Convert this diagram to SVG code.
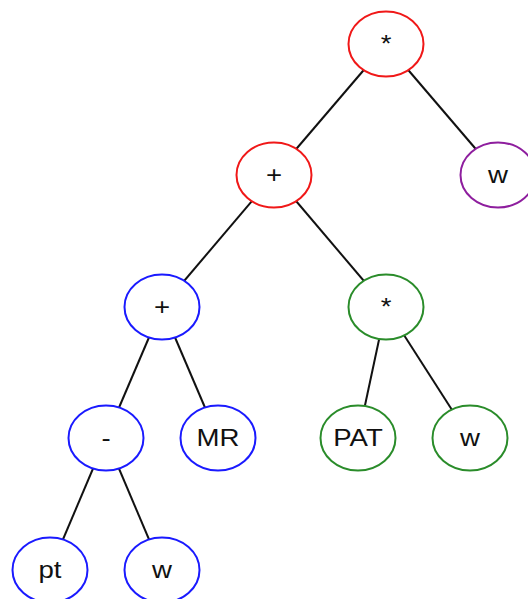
<svg xmlns="http://www.w3.org/2000/svg" width="528" height="599" viewBox="0 0 528 599">
<style>
.e{fill:#fff;stroke-width:2}
.r{stroke:#f01818}.b{stroke:#1a1aff}.g{stroke:#2a8c2a}.p{stroke:#8e1e9e}
text{font-family:"Liberation Sans",Arial,sans-serif;font-size:24px;fill:#111;text-anchor:middle;dominant-baseline:central}
#edges line{stroke:#111;stroke-width:2}
</style>
<rect width="528" height="599" fill="#fff"/>
<g id="edges">
<line x1="386" y1="44" x2="274" y2="175"/>
<line x1="386" y1="44" x2="498" y2="175"/>
<line x1="274" y1="175" x2="162" y2="307"/>
<line x1="274" y1="175" x2="386" y2="307"/>
<line x1="162" y1="307" x2="106" y2="438"/>
<line x1="162" y1="307" x2="218" y2="438"/>
<line x1="386" y1="307" x2="358" y2="438"/>
<line x1="386" y1="307" x2="470" y2="438"/>
<line x1="106" y1="438" x2="50" y2="570"/>
<line x1="106" y1="438" x2="162" y2="570"/>
</g>
<g id="n1"><ellipse class="e r" cx="386" cy="44" rx="37.5" ry="32.5"/><text transform="translate(386,44) scale(1.15,1)">*</text></g>
<g id="n2"><ellipse class="e r" cx="274" cy="175" rx="37.5" ry="32.5"/><text transform="translate(274,175) scale(1.15,1)">+</text></g>
<g id="n3"><ellipse class="e p" cx="498" cy="175" rx="37.5" ry="32.5"/><text transform="translate(498,175) scale(1.15,1)">w</text></g>
<g id="n4"><ellipse class="e b" cx="162" cy="307" rx="37.5" ry="32.5"/><text transform="translate(162,307) scale(1.15,1)">+</text></g>
<g id="n5"><ellipse class="e g" cx="386" cy="307" rx="37.5" ry="32.5"/><text transform="translate(386,307) scale(1.15,1)">*</text></g>
<g id="n6"><ellipse class="e b" cx="106" cy="438" rx="37.5" ry="32.5"/><text transform="translate(106,438) scale(1.15,1)">-</text></g>
<g id="n7"><ellipse class="e b" cx="218" cy="438" rx="37.5" ry="32.5"/><text transform="translate(218,438) scale(1.15,1)">MR</text></g>
<g id="n8"><ellipse class="e g" cx="358" cy="438" rx="37.5" ry="32.5"/><text transform="translate(358,438) scale(1.15,1)">PAT</text></g>
<g id="n9"><ellipse class="e g" cx="470" cy="438" rx="37.5" ry="32.5"/><text transform="translate(470,438) scale(1.15,1)">w</text></g>
<g id="n10"><ellipse class="e b" cx="50" cy="570" rx="37.5" ry="32.5"/><text transform="translate(50,570) scale(1.15,1)">pt</text></g>
<g id="n11"><ellipse class="e b" cx="162" cy="570" rx="37.5" ry="32.5"/><text transform="translate(162,570) scale(1.15,1)">w</text></g>
</svg>
